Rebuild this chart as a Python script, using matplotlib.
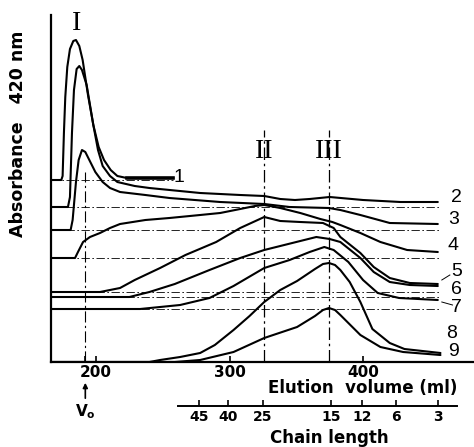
import matplotlib
matplotlib.use('Agg')
import matplotlib.pyplot as plt

# elution volume (ml) / absorbance (a.u., curves offset)
x1 = [166, 174, 175, 176, 177, 178.5, 180.5, 183, 185, 187.5, 190, 194, 198, 202, 206, 211, 216, 223, 258]
y1 = [1.82, 1.82, 1.86, 2.30, 2.65, 2.95, 3.13, 3.21, 3.22, 3.16, 3.02, 2.67, 2.37, 2.15, 2.02, 1.92, 1.86, 1.84, 1.84]

x2 = [166, 179, 180.5, 182, 183.5, 185.5, 187.5, 189.5, 193, 198, 201.5, 205, 210.5, 216, 229, 240, 278, 308,
      326, 338, 349, 360, 375, 400, 428, 456]
y2 = [1.55, 1.55, 1.65, 2.29, 2.72, 2.93, 2.96, 2.92, 2.77, 2.37, 2.12, 1.96, 1.86, 1.80, 1.76, 1.74, 1.69, 1.67,
      1.66, 1.63, 1.62, 1.63, 1.65, 1.62, 1.60, 1.60]

x3 = [166, 181, 182.5, 185, 187, 189.5, 192, 195, 199.5, 205, 210.5, 218, 237, 255, 293, 326, 345, 374.5,
      383, 398, 420, 456]
y3 = [1.32, 1.32, 1.42, 1.80, 2.02, 2.12, 2.10, 2.02, 1.90, 1.80, 1.74, 1.70, 1.67, 1.64, 1.60, 1.58, 1.55, 1.54,
      1.52, 1.47, 1.39, 1.38]

x4 = [166, 184.3, 186.5, 190.3, 195.5, 203, 210.5, 218, 237, 255, 278, 293, 308, 319, 326, 338, 353, 368,
      377, 383, 398, 413, 433, 456]
y4 = [1.04, 1.04, 1.10, 1.20, 1.25, 1.29, 1.34, 1.38, 1.42, 1.44, 1.47, 1.49, 1.53, 1.56, 1.57, 1.54, 1.49, 1.43,
      1.40, 1.37, 1.29, 1.20, 1.12, 1.10]

x5 = [166, 203, 210.5, 218, 229, 248, 267, 290, 308, 326, 338, 353, 370, 378, 383, 398, 408, 420, 435, 456]
y5 = [0.70, 0.70, 0.72, 0.74, 0.82, 0.94, 1.07, 1.20, 1.34, 1.45, 1.41, 1.40, 1.39, 1.34, 1.25, 1.09, 0.95, 0.84,
      0.79, 0.78]

x6 = [166, 225, 240, 259, 285, 308, 326, 341, 356, 365, 375, 383, 398, 408, 420, 435, 456]
y6 = [0.65, 0.65, 0.70, 0.78, 0.92, 1.04, 1.12, 1.17, 1.22, 1.25, 1.23, 1.20, 1.04, 0.90, 0.80, 0.77, 0.76]

x7 = [166, 233, 263, 285, 303, 326, 345, 360, 371, 378, 389, 400, 411, 427, 456]
y7 = [0.53, 0.53, 0.57, 0.64, 0.76, 0.94, 1.02, 1.10, 1.15, 1.12, 1.00, 0.82, 0.69, 0.64, 0.62]

x8 = [166, 240, 248, 263, 278, 289, 303, 315, 326, 338, 350.6, 364, 370, 374.5, 379, 383, 390, 398, 407, 420,
      431, 458]
y8 = [0.0, 0.0, 0.02, 0.05, 0.09, 0.17, 0.32, 0.46, 0.60, 0.72, 0.81, 0.93, 0.98, 0.99, 0.97, 0.92, 0.80, 0.60,
      0.33, 0.19, 0.13, 0.09]

x9 = [166, 259, 278, 303, 326, 350.6, 364, 370, 374.5, 379, 383, 398, 413, 430, 458]
y9 = [0.0, 0.0, 0.02, 0.10, 0.24, 0.35, 0.46, 0.52, 0.54, 0.52, 0.47, 0.27, 0.15, 0.10, 0.07]

curves = [(x1, y1), (x2, y2), (x3, y3), (x4, y4), (x5, y5), (x6, y6), (x7, y7), (x8, y8), (x9, y9)]
baselines = [1.82, 1.55, 1.32, 1.04, 0.70, 0.65, 0.53]
base_end = [258, 458, 458, 458, 458, 458, 458]

curve_labels = ['1', '2', '3', '4', '5', '6', '7', '8', '9']
label_x = [262, 470, 468, 467, 470, 470, 470, 466, 468]
label_y = [1.84, 1.65, 1.42, 1.16, 0.91, 0.73, 0.55, 0.29, 0.11]

v0 = 192
peak_pos = [185.8, 326, 374.5]
peak_names = ['I', 'II', 'III']
peak_y = [3.38, 2.11, 2.11]

vol_ticks = [200, 300, 400]
chain_pos = [277.2, 298.9, 325.1, 376.0, 399.3, 424.7, 456.2]
chain_labels = ['45', '40', '25', '15', '12', '6', '3']

W, H = 474, 447
fig = plt.figure(figsize=(W / 100, H / 100), dpi=100)
ax = fig.add_axes([51 / W, 85 / H, 423 / W, 347 / H])
ax.set_xlim(166.3, 483.1)
ax.set_ylim(0, 3.47)

for (x, y) in curves:
    ax.plot(x, y, color='black', lw=1.5, solid_capstyle='round', solid_joinstyle='round')
# thick end of trace 1
ax.plot([223, 258], [1.84, 1.84], color='black', lw=2.6)

for b, e in zip(baselines, base_end):
    ax.plot([166.3, e], [b, b], color='black', lw=0.6, ls=(0, (10, 3, 2, 3)))

ax.plot([v0, v0], [0, 1.9], color='black', lw=0.8, ls=(0, (10, 3, 2, 3)))
for p in peak_pos[1:]:
    ax.plot([p, p], [0, 2.32], color='black', lw=0.9, ls=(0, (10, 3, 2, 3)))

for p, n, y in zip(peak_pos, peak_names, peak_y):
    ax.text(p, y, n, ha='center', va='center', fontsize=20, family='Liberation Serif')

for lab, x, y in zip(curve_labels, label_x, label_y):
    ax.text(x, y, lab, ha='center', va='center', fontsize=14, family='Liberation Sans')
# small leader strokes
ax.plot([459, 465], [0.82, 0.87], color='black', lw=0.7)
ax.plot([459, 467], [0.60, 0.57], color='black', lw=0.7)

for s in ['top', 'right']:
    ax.spines[s].set_visible(False)
ax.spines['left'].set_linewidth(1.6)
ax.spines['bottom'].set_linewidth(1.6)
ax.set_yticks([])
ax.set_xticks([v0] + vol_ticks)
ax.set_xticklabels([''] + [str(t) for t in vol_ticks], fontsize=11, fontweight='bold')
ax.tick_params(axis='x', direction='in', length=4, width=1.2, pad=2.5)

# chain length scale
ax2 = fig.add_axes([51 / W, (H - 406) / H, 423 / W, 0.001])
ax2.set_xlim(166.3, 483.1)
ax2.patch.set_visible(False)
for s in ['top', 'right', 'left']:
    ax2.spines[s].set_visible(False)
ax2.spines['bottom'].set_bounds(261.4, 470.4)
ax2.spines['bottom'].set_linewidth(1.4)
ax2.set_yticks([])
ax2.set_xticks(chain_pos)
ax2.set_xticklabels(chain_labels, fontsize=10, fontweight='bold')
ax2.tick_params(axis='x', direction='in', length=4, width=1.2, pad=3)

fig.text(363 / W, 1 - 388 / H, 'Elution  volume (ml)', ha='center', va='center',
         fontsize=12, fontweight='bold')
fig.text(329 / W, 1 - 438 / H, 'Chain length', ha='center', va='center',
         fontsize=12, fontweight='bold')
fig.text(18 / W, 1 - 134 / H, 'Absorbance   420 nm', ha='center', va='center',
         rotation=90, fontsize=12.5, fontweight='bold')

ax.annotate('', xy=(v0, 1 - 380 / H), xytext=(v0, 1 - 401 / H),
            xycoords=('data', 'figure fraction'), textcoords=('data', 'figure fraction'),
            arrowprops=dict(arrowstyle='-|>', lw=1.2, color='black', mutation_scale=7))
ax.annotate(r'$\mathbf{V_o}$', xy=(v0, 1 - 412 / H), xycoords=('data', 'figure fraction'),
            ha='center', va='center', fontsize=11)

fig.savefig('out.png', dpi=100)
